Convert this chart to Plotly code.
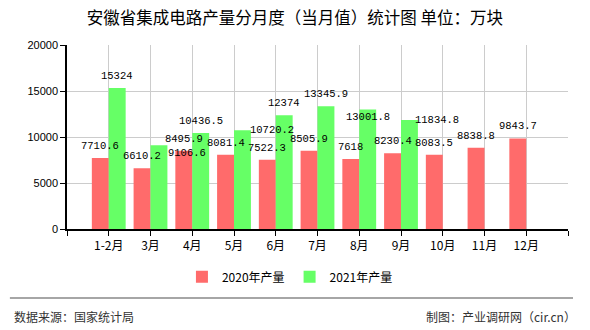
import plotly.graph_objects as go

months = ["1-2月", "3月", "4月", "5月", "6月", "7月", "8月", "9月", "10月", "11月", "12月"]
v2020 = [7710.6, 6610.2, 8495.9, 8081.4, 7522.3, 8505.9, 7618, 8230.4, 8083.5, 8838.8, 9843.7]
v2021 = [15324, 9106.6, 10436.5, 10720.2, 12374, 13345.9, 13001.8, 11834.8, None, None, None]
labels2020 = ["7710.6", "6610.2", "8495.9", "8081.4", "7522.3", "8505.9", "7618", "8230.4", "8083.5", "8838.8", "9843.7"]
labels2021 = ["15324", "9106.6", "10436.5", "10720.2", "12374", "13345.9", "13001.8", "11834.8", "", "", ""]
yticks = [0, 5000, 10000, 15000, 20000]

# label placement tweaks (pixel shifts) for overlapping 2021 labels, by category index
shift2021 = {1: (28, -8), 3: (30, 0), 6: (0, -8), 7: (28, 0)}

pos = list(range(1, len(months) + 1))
font_cjk = "Noto Sans CJK SC"
lab_font = dict(family="Liberation Mono", size=10.5, color="#000")

fig = go.Figure()
fig.add_trace(go.Bar(x=pos, y=v2020, name="2020年产量", marker_color="#ff6b6b",
                     marker_line_width=0, width=0.405, offset=-0.405))
fig.add_trace(go.Bar(x=pos, y=v2021, name="2021年产量", marker_color="#66ff66",
                     marker_line_width=0, width=0.405, offset=0))

for i, (v, t) in enumerate(zip(v2020, labels2020)):
    fig.add_annotation(x=pos[i] - 0.2, y=v, text=t, showarrow=False, yanchor="bottom",
                       yshift=5, font=lab_font, borderpad=0)
for i, (v, t) in enumerate(zip(v2021, labels2021)):
    if v is None:
        continue
    if i in shift2021:
        xs, ys = shift2021[i]
        ya = "middle"
    else:
        xs, ys, ya = 0, 5, "bottom"
    fig.add_annotation(x=pos[i] + 0.2, y=v, text=t, showarrow=False, yanchor=ya,
                       xshift=xs, yshift=ys, font=lab_font, borderpad=0)

fig.update_layout(
    width=590, height=330,
    margin=dict(l=67, r=22, t=45, b=101),
    paper_bgcolor="white", plot_bgcolor="white",
    barmode="overlay",
    title=dict(text="安徽省集成电路产量分月度（当月值）统计图 单位：万块", xref="paper", x=0.455,
               xanchor="center", y=0.945, yanchor="middle",
               font=dict(family=font_cjk, size=16.5, color="#000")),
    font=dict(family=font_cjk, size=12, color="#000"),
    legend=dict(orientation="h", x=0.445, xanchor="center", y=-0.26, yanchor="middle",
                font=dict(family=font_cjk, size=12), traceorder="normal"),
    showlegend=True,
)
fig.update_xaxes(range=[0, len(months) + 1], tickvals=[0] + pos + [len(months) + 1],
                 ticktext=[""] + months + [""], showgrid=True, gridcolor="#cccccc",
                 showline=True, linecolor="#000", linewidth=1.5, ticks="outside", ticklen=5,
                 tickcolor="#000", tickfont=dict(size=12, family=font_cjk), zeroline=False)
fig.update_yaxes(range=[0, 20000], tickvals=yticks, tickformat="d", showgrid=True,
                 gridcolor="#cccccc", showline=True, linecolor="#000", linewidth=1.5,
                 ticks="outside", ticklen=5, tickcolor="#000", zeroline=False,
                 tickfont=dict(size=11, family="Liberation Sans"))

fig.add_shape(type="line", xref="paper", yref="paper", x0=-0.114, x1=1.01, y0=-0.375, y1=-0.375,
              line=dict(color="#888", width=1.5))
fig.add_annotation(text="数据来源：国家统计局", xref="paper", yref="paper", x=-0.11, y=-0.473,
                   xanchor="left", yanchor="middle", showarrow=False,
                   font=dict(family=font_cjk, size=12, color="#333"))
fig.add_annotation(text="制图：产业调研网（cir.cn）", xref="paper", yref="paper", x=1.02, y=-0.473,
                   xanchor="right", yanchor="middle", showarrow=False,
                   font=dict(family=font_cjk, size=12, color="#333"))

fig.write_html("out.html")
